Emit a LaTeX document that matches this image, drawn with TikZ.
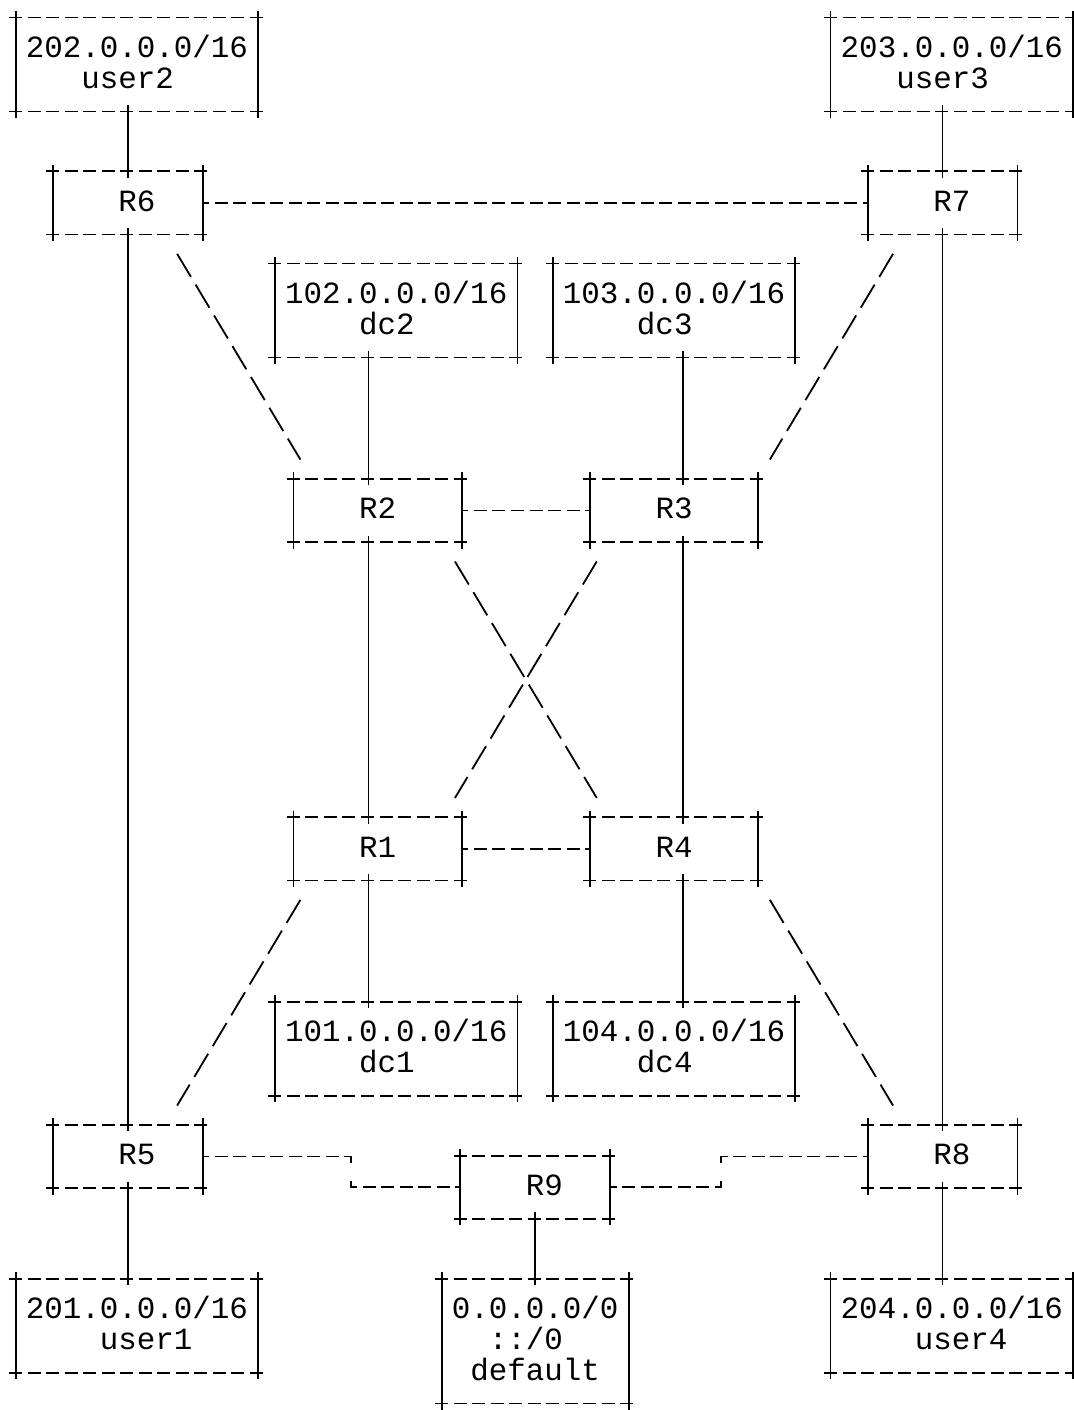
\documentclass[tikz,border=0pt]{standalone}
\usepackage{fontspec}
\usepackage{tikz}
\newfontfamily\asciimono{Liberation Mono}
\newcommand{\asciifont}{\asciimono\fontsize{15.43pt}{15.38pt}\selectfont}
\newcommand{\chw}{9.26pt}
\newcommand{\rowh}{15.38pt}
\newcommand{\rowstrut}{\rule[-3.59pt]{0pt}{15.38pt}}
\newcommand{\padch}{\hphantom{0}}

\tikzset{
  hyphenline/.style={dash pattern=on 6.5pt off 2.76pt},
  plusarm/.style={shorten <=-3.25pt, shorten >=-3.25pt},
  asciibox/.style 2 args={minimum width=#1*\chw, minimum height=#2*\rowh,
    inner sep=0pt, align=center, font=\asciifont,
    execute at begin node=\rowstrut,
    append after command={
      (\tikzlastnode.north west) edge[hyphenline, plusarm] (\tikzlastnode.north east)
      (\tikzlastnode.south west) edge[hyphenline, plusarm] (\tikzlastnode.south east)
      (\tikzlastnode.north west) edge[plusarm] (\tikzlastnode.south west)
      (\tikzlastnode.north east) edge[plusarm] (\tikzlastnode.south east)}},
  vlink/.style={plusarm},
  hlink/.style={dash pattern=on 6.5pt off 2.76pt, dash phase=3.25pt},
  diag/.style={dash pattern=on 13.45pt off 4.5pt, shorten <=11.23pt, shorten >=11.23pt},
  elbowleft/.style={dash pattern=on 3.25pt off 2.76pt on 6.5pt off 2.76pt on 6.5pt off 2.76pt
    on 6.5pt off 2.76pt on 6.5pt off 2.76pt on 6.5pt off 2.76pt on 6.5pt off 2.76pt
    on 6.5pt off 2.76pt on 6.5pt off 8.88pt on 6.5pt off 2.76pt on 6.5pt off 2.76pt
    on 6.5pt off 2.76pt on 6.5pt off 2.76pt on 6.5pt off 2.76pt on 6.5pt off 2.76pt
    on 3.25pt off 2.76pt},
  elbowright/.style={dash pattern=on 3.25pt off 2.76pt on 6.5pt off 2.76pt on 6.5pt off 2.76pt
    on 6.5pt off 2.76pt on 6.5pt off 2.76pt on 6.5pt off 2.76pt on 6.5pt off 8.88pt
    on 6.5pt off 2.76pt on 6.5pt off 2.76pt on 6.5pt off 2.76pt on 6.5pt off 2.76pt
    on 6.5pt off 2.76pt on 6.5pt off 2.76pt on 6.5pt off 2.76pt on 6.5pt off 2.76pt
    on 3.25pt off 2.76pt},
}

\begin{document}
\begin{tikzpicture}[x=9.26pt, y=-15.38pt, line width=0.9pt]
\useasboundingbox (-0.891,-0.595) rectangle (57.05,45.24);

% user networks on top
\node[asciibox={13}{3}] (user2) at (6.5,1.5) {\rowstrut202.0.0.0/16\\user2\padch\rowstrut};
\node[asciibox={13}{3}] (user3) at (50.5,1.5) {\rowstrut203.0.0.0/16\\user3\padch\rowstrut};

% edge routers, top
\node[asciibox={8}{2}] (R6) at (6,6) {\padch R6};
\node[asciibox={8}{2}] (R7) at (50,6) {\padch R7};

% data centres, top
\node[asciibox={13}{3}] (dc2) at (20.5,9.5) {\rowstrut102.0.0.0/16\\dc2\padch\rowstrut};
\node[asciibox={13}{3}] (dc3) at (35.5,9.5) {\rowstrut103.0.0.0/16\\dc3\padch\rowstrut};

% core routers
\node[asciibox={9}{2}] (R2) at (19.5,16) {R2};
\node[asciibox={9}{2}] (R3) at (35.5,16) {R3};
\node[asciibox={9}{2}] (R1) at (19.5,27) {R1};
\node[asciibox={9}{2}] (R4) at (35.5,27) {R4};

% data centres, bottom
\node[asciibox={13}{3}] (dc1) at (20.5,33.5) {\rowstrut101.0.0.0/16\\dc1\padch\rowstrut};
\node[asciibox={13}{3}] (dc4) at (35.5,33.5) {\rowstrut104.0.0.0/16\\dc4\padch\rowstrut};

% edge routers, bottom
\node[asciibox={8}{2}] (R5) at (6,37) {\padch R5};
\node[asciibox={8}{2}] (R8) at (50,37) {\padch R8};
\node[asciibox={8}{2}] (R9) at (28,38) {\padch R9};

% user networks and default route at the bottom
\node[asciibox={13}{3}] (user1) at (6.5,42.5) {\rowstrut201.0.0.0/16\\\padch user1\rowstrut};
\node[asciibox={10}{4}] (dflt) at (28,43) {\rowstrut0.0.0.0/0\\::/0\padch\\default\rowstrut};
\node[asciibox={13}{3}] (user4) at (50.5,42.5) {\rowstrut204.0.0.0/16\\\padch user4\rowstrut};

% access links
\draw[vlink] (R6.north) -- (R6.north |- user2.south);
\draw[vlink] (R7.north) -- (R7.north |- user3.south);
\draw[vlink] (R5.south) -- (R5.south |- user1.north);
\draw[vlink] (R8.south) -- (R8.south |- user4.north);
\draw[vlink] (R9.south) -- (dflt.north);

% outer sides
\draw[vlink] (R6.south) -- (R5.north);
\draw[vlink] (R7.south) -- (R8.north);

% data centre links and core verticals
\draw[vlink] ([xshift=-0.5*\chw]R2.north) -- ([xshift=-0.5*\chw]R2.north |- dc2.south);
\draw[vlink] ([xshift=0.5*\chw]R3.north) -- ([xshift=0.5*\chw]R3.north |- dc3.south);
\draw[vlink] ([xshift=-0.5*\chw]R2.south) -- ([xshift=-0.5*\chw]R1.north);
\draw[vlink] ([xshift=0.5*\chw]R3.south) -- ([xshift=0.5*\chw]R4.north);
\draw[vlink] ([xshift=-0.5*\chw]R1.south) -- ([xshift=-0.5*\chw]R1.south |- dc1.north);
\draw[vlink] ([xshift=0.5*\chw]R4.south) -- ([xshift=0.5*\chw]R4.south |- dc4.north);

% horizontal links
\draw[hlink] (R6.east) -- (R7.west);
\draw[hlink] (R2.east) -- (R3.west);
\draw[hlink] (R1.east) -- (R4.west);
\draw[elbowleft] (R5.east) -- ++(8,0) |- (R9.west);
\draw[elbowright] (R9.east) -- ++(6,0) |- (R8.west);

% diagonal links
\draw[diag] ([xshift=-2*\chw]R6.south east) -- ([xshift=\chw]R2.north west);
\draw[diag] ([xshift=2*\chw]R7.south west) -- (R3.north east);
\draw[diag] ([xshift=-\chw]R2.south east) -- ([xshift=\chw]R4.north west);
\draw[diag] ([xshift=\chw]R3.south west) -- ([xshift=-\chw]R1.north east);
\draw[diag] ([xshift=\chw]R1.south west) -- ([xshift=-2*\chw]R5.north east);
\draw[diag] (R4.south east) -- ([xshift=2*\chw]R8.north west);

\end{tikzpicture}
\end{document}
